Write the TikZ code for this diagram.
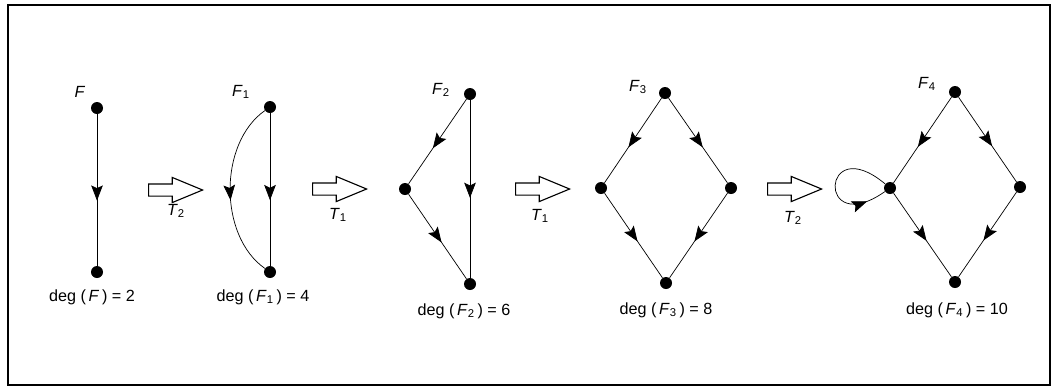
\documentclass[tikz,border=0pt]{standalone}
\usepackage{fontspec}
\setmainfont{Liberation Sans}
\usetikzlibrary{arrows.meta, positioning, shapes.arrows, decorations.markings}

\tikzset{
  vdot/.style={circle, fill=black, inner sep=0pt, minimum size=0.3cm},
  edgeline/.style={line width=0.5pt},
  midarrow/.style={postaction={decorate}, decoration={markings,
      mark=at position #1 with {\arrow{Stealth[length=0.38cm, width=0.29cm, inset=0.07cm]}}}},
  midarrow/.default=0.57,
  hollowarrow/.style={single arrow, draw, line width=0.8pt, fill=white, anchor=tail,
      minimum height=1.35cm, inner sep=0.1375cm,
      single arrow head extend=0.1625cm, single arrow tip angle=45},
  glabel/.style={font=\fontsize{11.5}{13}\selectfont},
}

\begin{document}
\begin{tikzpicture}[x=0.025cm, y=-0.025cm]

% Frame
\useasboundingbox (0,0) rectangle (1056,391);
\draw[line width=1.2pt] (8,5) rectangle (1050,385);

% =========== F ===========
\node[vdot] (t0) at (97,108) {};
\node[vdot] (b0) at (97,272) {};
\draw[edgeline, midarrow=0.57] (t0) -- (b0);
\node[glabel] (lf0) at (80,92) {\textit{F}};
\node[glabel] (dg0) at (92,297) {deg (\,\textit{F}\,) = 2};

\node[hollowarrow] (ar1) at (148,190) {};
\node[glabel] (tl1) at (176,211) {\textit{T}\textsubscript{2}};

% =========== F1 ===========
\node[vdot] (t1) at (270,107) {};
\node[vdot] (b1) at (270,272) {};
\draw[edgeline, midarrow=0.57] (t1) -- (b1);
\draw[edgeline, midarrow=0.56] (t1) to[out=215, in=145, looseness=0.92] (b1);
\node[glabel] (lf1) at (241,92) {\textit{F}\textsubscript{1}};
\node[glabel] (dg1) at (263,297) {deg (\,\textit{F}\textsubscript{1}\,) = 4};

\node[hollowarrow] (ar2) at (312,189) {};
\node[glabel] (tl2) at (338,215) {\textit{T}\textsubscript{1}};

% =========== F2 ===========
\node[vdot] (t2) at (470,94) {};
\node[vdot] (l2) at (405,189) {};
\node[vdot] (b2) at (470,284) {};
\draw[edgeline, midarrow=0.58] (t2) -- (l2);
\draw[edgeline, midarrow=0.57] (l2) -- (b2);
\draw[edgeline, midarrow=0.55] (t2) -- (b2);
\node[glabel] (lf2) at (441,90) {\textit{F}\textsubscript{2}};
\node[glabel] (dg2) at (464,311) {deg (\,\textit{F}\textsubscript{2}\,) = 6};

\node[hollowarrow] (ar3) at (515,189) {};
\node[glabel] (tl3) at (540,216) {\textit{T}\textsubscript{1}};

% =========== F3 ===========
\node[vdot] (t3) at (665,93) {};
\node[vdot] (l3) at (601,188) {};
\node[vdot] (r3) at (731,188) {};
\node[vdot] (b3) at (666,283) {};
\draw[edgeline, midarrow=0.58] (t3) -- (l3);
\draw[edgeline, midarrow=0.58] (t3) -- (r3);
\draw[edgeline, midarrow=0.57] (l3) -- (b3);
\draw[edgeline, midarrow=0.57] (r3) -- (b3);
\node[glabel] (lf3) at (638,87) {\textit{F}\textsubscript{3}};
\node[glabel] (dg3) at (666,310) {deg (\,\textit{F}\textsubscript{3}\,) = 8};

\node[hollowarrow] (ar4) at (767,189) {};
\node[glabel] (tl4) at (793,218) {\textit{T}\textsubscript{2}};

% =========== F4 ===========
\node[vdot] (t4) at (955,92) {};
\node[vdot] (l4) at (890,188) {};
\node[vdot] (r4) at (1020,187) {};
\node[vdot] (b4) at (955,282) {};
\draw[edgeline, midarrow=0.58] (t4) -- (l4);
\draw[edgeline, midarrow=0.58] (t4) -- (r4);
\draw[edgeline, midarrow=0.57] (l4) -- (b4);
\draw[edgeline, midarrow=0.57] (r4) -- (b4);
% loop
\draw[edgeline, midarrow=0.84] (l4) to[out=140, in=215, distance=2.1cm] (l4);
\node[glabel] (lf4) at (927,84) {\textit{F}\textsubscript{4}};
\node[glabel] (dg4) at (957,310) {deg (\,\textit{F}\textsubscript{4}\,) = 10};

\end{tikzpicture}
\end{document}
